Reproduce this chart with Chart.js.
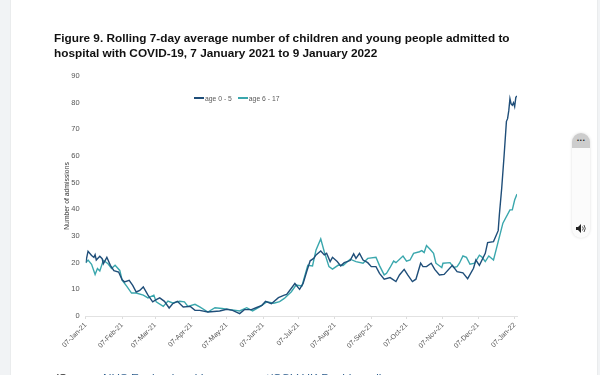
<!DOCTYPE html>
<html>
<head>
<meta charset="utf-8">
<title>Figure 9</title>
<script src="https://cdn.jsdelivr.net/npm/chart.js@4"></script>
<style>
    html, body { margin: 0; padding: 0; width: 600px; height: 375px; overflow: hidden; background: #f1f3f5; }
    #page { position: absolute; left: 11px; top: 0; width: 586px; height: 375px; background: #fff; box-shadow: 0 0 1px #c8c8c8; }
    #wrap { position: absolute; left: 0; top: 0; width: 600px; height: 375px; }
    #chart { filter: blur(0.45px); }
    #title { position: absolute; left: 54px; top: 31px; width: 480px; font: bold 11.8px/14.6px "Liberation Sans", Arial, sans-serif; color: #111; filter: blur(0.3px); }
    #legend { position: absolute; left: 194px; top: 94px; font: 6.8px/10px "Liberation Sans", Arial, sans-serif; color: #595959; white-space: nowrap; filter: blur(0.3px); }
    #legend i { display: inline-block; width: 10px; height: 1.5px; vertical-align: 2.5px; margin-right: 1px; }
    #legend span { margin-right: 6px; }
    #source { position: absolute; left: 55px; top: 370px; font: 11.8px/16px "Liberation Sans", Arial, sans-serif; color: #111; white-space: nowrap; filter: blur(0.3px); }
    #source a { color: #2f5f8f; }
    #pill { position: absolute; left: 572px; top: 133px; width: 18px; height: 105px; border-radius: 9px; background: #fbfbfb; box-shadow: 0 0 3px #ddd; overflow: hidden; }
    #pillCap { height: 15px; background: #cdcdcd; color: #222; font: bold 9px/11px "Liberation Sans", Arial, sans-serif; text-align: center; letter-spacing: 0.3px; }
    #speaker { position: absolute; left: 4px; top: 91px; }
</style>
</head>
<body>
<div id="page"></div>
<div id="wrap"><canvas id="chart" width="600" height="375"></canvas></div>
<div id="title">Figure 9. Rolling 7-day average number of children and young people admitted to hospital with COVID-19, 7 January 2021 to 9 January 2022</div>
<div id="legend"><span><i style="background:#1f4e79"></i>age 0 - 5</span><span><i style="background:#3aa7ad"></i>age 6 - 17</span></div>
<div id="source">(Source: <a>NHS England and Improvement/COV UK Dashboard)</a></div>
<div id="pill">
    <div id="pillCap">...</div>
    <svg id="speaker" width="10" height="9" viewBox="0 0 10 9"><path d="M0 3h2l3-3v9l-3-3H0z" fill="#222"/><path d="M6.5 2.500q1.500 2 0 4M8 1q2.500 3.500 0 7" stroke="#222" fill="none" stroke-width="0.8"/></svg>
</div>

<script>
// days since 07-Jan-21
const darkDays = [0, 2, 5, 7, 8, 9, 12, 14, 15, 18, 21, 24, 28, 31, 33, 37, 40, 43, 46, 49, 53, 57, 60, 63, 67, 71, 74, 78, 83, 89, 93, 97, 104, 114, 120, 125, 131, 135, 141, 145, 150, 153, 158, 164, 169, 171, 175, 178, 182, 185, 188, 191, 194, 196, 200, 203, 205, 208, 210, 214, 217, 220, 225, 228, 230, 233, 236, 240, 243, 247, 250, 254, 259, 264, 267, 271, 274, 278, 281, 285, 287, 290, 294, 297, 301, 305, 312, 316, 321, 325, 330, 332, 335, 340, 342, 347, 351, 352, 354, 356, 358, 359, 360, 361, 362, 363, 364, 365, 366, 367];
const darkValues = [20, 24.3, 22.7, 22, 23, 21, 22.4, 21.5, 19.6, 22, 19, 17, 16.5, 13.6, 12.8, 13.4, 11.5, 9, 9.6, 10.9, 7.8, 5.3, 6.1, 6.8, 5.5, 3, 4.6, 5.5, 3.4, 3.6, 2.1, 2.1, 1.5, 1.9, 2.5, 2.1, 0.9, 2.4, 2.4, 3.1, 4, 5.5, 4.6, 6.9, 7.8, 8.1, 10.4, 12.2, 10, 12.2, 16.6, 20.7, 21.6, 22.9, 24.4, 22.9, 23.5, 20.4, 22, 20.4, 18.8, 20, 20.8, 23.3, 21.6, 23.5, 21, 20, 18.5, 18.5, 16, 13.8, 14.4, 12.9, 15.4, 17.5, 15.4, 12.9, 13.8, 19.8, 18.5, 18.5, 19.8, 17.5, 15.4, 15.6, 19, 16.6, 16.2, 14, 17.9, 21, 19, 23.5, 27.5, 27.9, 32, 38, 48, 60, 73, 74, 77, 81.5, 79.5, 79, 80, 78.5, 82, 82.5];

const tealDays = [0, 2, 5, 8, 10, 12, 15, 19, 22, 25, 29, 31, 35, 39, 43, 49, 53, 58, 60, 66, 70, 74, 80, 84, 87, 93, 97, 104, 110, 116, 123, 131, 137, 142, 148, 154, 160, 165, 169, 175, 179, 184, 189, 193, 196, 200, 203, 207, 210, 215, 219, 225, 230, 236, 240, 247, 250, 254, 256, 259, 262, 264, 270, 273, 276, 279, 284, 286, 288, 290, 293, 296, 298, 303, 304, 310, 313, 316, 318, 321, 324, 327, 331, 335, 337, 340, 343, 347, 351, 355, 361, 363, 365, 367];
const tealValues = [20, 21, 19.4, 15.6, 17.8, 16.9, 20.9, 19.6, 17.8, 19, 17.1, 13.4, 11.1, 8.6, 8.6, 7.8, 6.8, 7.8, 5.3, 3.6, 5.6, 4.9, 5.5, 5.3, 3.6, 4.4, 3.4, 1.5, 3.1, 2.8, 2.4, 1.9, 3.1, 1.9, 3.4, 5.3, 4.8, 5.4, 6.6, 9.1, 11.6, 11.3, 19, 18.8, 24.8, 28.9, 24.1, 18.5, 17.6, 19.1, 18.9, 21.3, 20.4, 19.8, 21.6, 22, 18.9, 15.4, 16, 18.2, 20.6, 20, 22.5, 20.6, 21, 23.5, 24.1, 24.5, 23.8, 26.4, 25, 23.5, 19.8, 18.2, 19.8, 20, 18.2, 18.5, 19.8, 22.5, 22, 19.4, 19.8, 22.8, 22.2, 20.4, 22.5, 21, 27.9, 34.8, 39.8, 39.8, 43.5, 45.7];

const tickDays = [0, 31, 59, 90, 120, 151, 181, 212, 243, 273, 304, 334, 365];
const tickLabels = ['07-Jan-21', '07-Feb-21', '07-Mar-21', '07-Apr-21', '07-May-21', '07-Jun-21', '07-Jul-21', '07-Aug-21', '07-Sep-21', '07-Oct-21', '07-Nov-21', '07-Dec-21', '07-Jan-22'];

const toPoints = (days, values) => days.map((d, i) => ({ x: d, y: values[i] }));

new Chart(document.getElementById('chart').getContext('2d'), {
    type: 'line',
    data: {
        datasets: [
            {
                label: 'age 0 - 5',
                data: toPoints(darkDays, darkValues),
                borderColor: '#1f4e79',
                borderWidth: 1.4,
                pointRadius: 0,
                tension: 0
            },
            {
                label: 'age 6 - 17',
                data: toPoints(tealDays, tealValues),
                borderColor: '#3aa7ad',
                borderWidth: 1.4,
                pointRadius: 0,
                tension: 0
            }
        ]
    },
    options: {
        responsive: false,
        animation: false,
        layout: { padding: { top: 76, right: 83, bottom: 0, left: 0 } },
        plugins: {
            legend: { display: false },
            tooltip: { enabled: false }
        },
        scales: {
            x: {
                type: 'linear',
                min: 0,
                max: 367,
                afterBuildTicks: function(scale) {
                    scale.ticks = tickDays.map(d => ({ value: d }));
                },
                afterFit: function(scale) {
                    scale.height = 59;
                },
                grid: { drawOnChartArea: false, color: '#dddddd', tickLength: 3 },
                border: { color: '#e2e2e2' },
                ticks: {
                    autoSkip: false,
                    maxRotation: 45,
                    minRotation: 45,
                    padding: 2,
                    color: '#555555',
                    font: { family: '"Liberation Sans"', size: 7 },
                    callback: function(value) {
                        return tickLabels[tickDays.indexOf(value)];
                    }
                }
            },
            y: {
                min: 0,
                max: 90,
                afterFit: function(scale) {
                    scale.width = 85.7;
                },
                grid: { display: false, drawTicks: false },
                border: { display: false },
                ticks: {
                    stepSize: 10,
                    padding: 6,
                    color: '#555555',
                    font: { family: '"Liberation Sans"', size: 7.5 }
                },
                title: {
                    display: true,
                    text: 'Number of admissions',
                    color: '#333333',
                    font: { family: '"Liberation Sans"', size: 6.8 },
                    padding: { top: 63, bottom: 0 }
                }
            }
        }
    }
});
</script>
</body>
</html>
